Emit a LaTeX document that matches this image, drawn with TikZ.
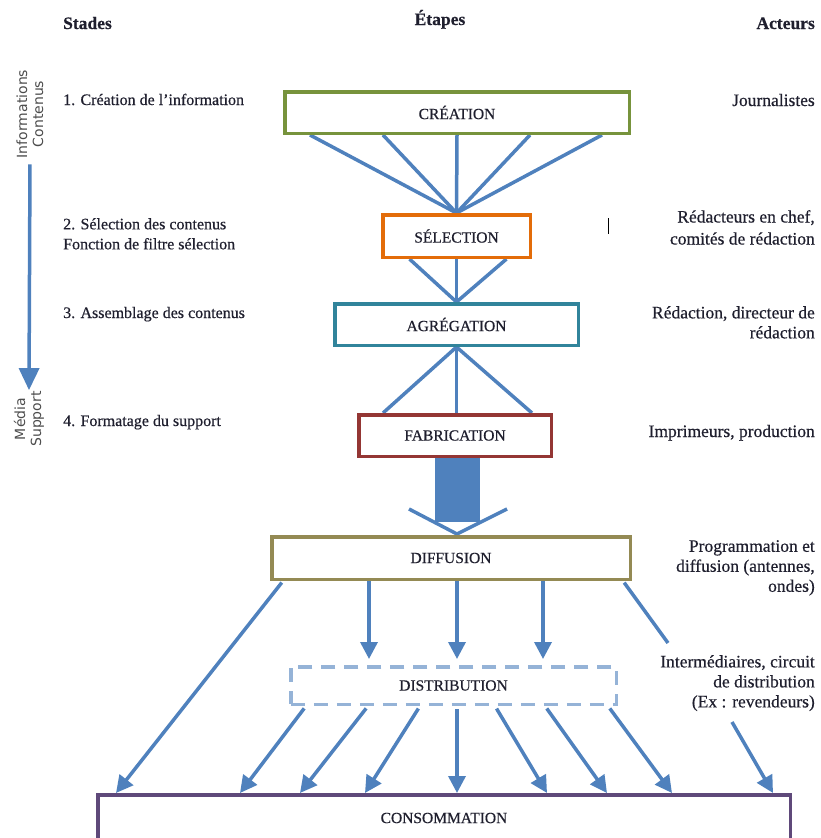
\documentclass[tikz,border=0pt]{standalone}
\usepackage{fontspec}
\setmainfont{Liberation Serif}[FakeBold=0.5]
\newfontfamily\sidesans{DejaVu Sans}
\usetikzlibrary{arrows.meta}
\definecolor{flowblue}{HTML}{4F81BD}
\definecolor{creagreen}{HTML}{77933C}
\definecolor{selorange}{HTML}{E36C09}
\definecolor{agrteal}{HTML}{31849B}
\definecolor{fabred}{HTML}{943634}
\definecolor{difolive}{HTML}{948A54}
\definecolor{distblue}{HTML}{95B3D7}
\definecolor{conspurple}{HTML}{5F497A}
\definecolor{labelink}{HTML}{1F1F2E}
\pgfdeclarelayer{background}
\pgfsetlayers{background,main}
\begin{document}
\begin{tikzpicture}[x=1pt,y=-1pt,
  stagebox/.style={draw, line width=3.5pt, fill=white, inner sep=0pt, font=\fontsize{15.5}{18}\selectfont, text=labelink},
  flow/.style={draw=flowblue, line width=3.5pt},
  flowarrow/.style={flow, -{Triangle[length=17pt,width=17pt]}},
  leftlabel/.style={font=\fontsize{16}{20}\selectfont, text=labelink, inner sep=0pt, align=left},
  rightlabel/.style={font=\fontsize{17.5}{20}\selectfont, text=labelink, inner sep=0pt, align=right},
  header/.style={font=\fontsize{17.5}{20}\selectfont\bfseries, text=labelink, inner sep=0pt},
  sidetext/.style={font=\sidesans\fontsize{14}{16}\selectfont, text=black!70, inner sep=0pt, align=center, rotate=90}
]
\useasboundingbox (0,0) rectangle (821,838);
\clip (0,0) rectangle (821,838);

% headers
\node[header, anchor=base west] (hs) at (63,29) {Stades};
\node[header, anchor=base] (he) at (440,25) {Étapes};
\node[header, anchor=base east] (ha) at (815,29) {Acteurs};

% side rotated texts
\node[sidetext] (info) at (30,114) {Informations\\Contenus};
\node[sidetext] (media) at (29,419) {Média\\Support};

% stage boxes
\node[stagebox, draw=creagreen, minimum width=344.5pt, minimum height=41.5pt] (cre) at (457,112.5) {CRÉATION};
\node[stagebox, draw=selorange, minimum width=147.5pt, minimum height=42.5pt] (sel) at (456.5,236) {SÉLECTION};
\node[stagebox, draw=agrteal, minimum width=243.5pt, minimum height=41.5pt] (agr) at (456.5,324.5) {AGRÉGATION};
\node[stagebox, draw=fabred, minimum width=192.5pt, minimum height=41.5pt] (fab) at (455,435.5) {FABRICATION};
\node[stagebox, draw=difolive, minimum width=358.5pt, minimum height=42.5pt] (dif) at (451,558) {DIFFUSION};
\node[stagebox, draw=distblue, dash pattern=on 14pt off 9pt, minimum width=325.5pt, minimum height=37.5pt] (dist) at (453.5,685.5) {DISTRIBUTION};
\node[stagebox, draw=conspurple, minimum width=692.5pt, minimum height=46.5pt] (cons) at (444,818) {CONSOMMATION};

% left labels
\node[leftlabel, anchor=base west] (l1) at (63,105) {1. Création de l'information};
\node[leftlabel, anchor=north west] (l2) at (63,218) {2. Sélection des contenus\\Fonction de filtre sélection};
\node[leftlabel, anchor=base west] (l3) at (63,318) {3. Assemblage des contenus};
\node[leftlabel, anchor=base west] (l4) at (63,426) {4. Formatage du support};

% right labels
\node[rightlabel, anchor=base east] (r1) at (815,106) {Journalistes};
\node[rightlabel, anchor=north east] (r2) at (815,210) {Rédacteurs en chef,\\[2pt]comités de rédaction};
\node[rightlabel, anchor=north east] (r3) at (815,306) {Rédaction, directeur de\\rédaction};
\node[rightlabel, anchor=base east] (r4) at (815,437) {Imprimeurs, production};
\node[rightlabel, anchor=north east] (r5) at (815,540) {Programmation et\\diffusion (antennes,\\ondes)};
\node[rightlabel, anchor=north east] (r6) at (815,655) {Intermédiaires, circuit\\de distribution\\(Ex : revendeurs)};

% cursor mark
\draw[line width=1pt, black] (608,218) -- (608,234);

\coordinate (difend) at (668,643);
\coordinate (interend) at (732,722);

\begin{pgfonlayer}{background}
% left vertical arrow
\draw[flow, -{Triangle[length=22pt,width=20pt]}, shorten <=6pt, shorten >=1pt] (info.west) -- (media.east);

% creation -> selection
\foreach \dx in {-147,-74,0,73,145}
  \draw[flow] ([xshift=\dx pt]cre.south) -- (sel.north);
% selection -> agregation
\foreach \dx in {-47,0,50}
  \draw[flow] ([xshift=\dx pt]sel.south) -- (agr.north);
% agregation -> fabrication
\foreach \dx in {-72,1.5,77}
  \draw[flow] (agr.south) -- ([xshift=\dx pt]fab.north);

% fabrication -> diffusion block arrow
\fill[flowblue] ([xshift=-20pt]fab.south) rectangle ([xshift=25pt,yshift=-64pt]fab.south);
\draw[flow] ([xshift=-42pt,yshift=26pt]dif.north) -- ([xshift=6pt,yshift=1pt]dif.north) -- ([xshift=56pt,yshift=26pt]dif.north);

% diffusion outputs
\draw[flowarrow, shorten <=2pt] ([xshift=-168pt]dif.south) -- ([xshift=-328pt]cons.north);
\foreach \a/\b in {-82/-84.5, 6/3.5, 92/89.5}
  \draw[flowarrow, shorten >=6pt] ([xshift=\a pt]dif.south) -- ([xshift=\b pt]dist.north);
\draw[flow, shorten <=2pt] ([xshift=172pt]dif.south) -- (difend);

% distribution outputs
\foreach \a/\b in {-147.5/-204, -85.5/-144, -33.5/-79, 3.5/13, 41.5/103, 91.5/163, 154.5/228}
  \draw[flowarrow, shorten <=3pt] ([xshift=\a pt]dist.south) -- ([xshift=\b pt]cons.north);

% intermediaries -> consommation
\draw[flowarrow] (interend) -- ([xshift=329pt]cons.north);
\end{pgfonlayer}
\end{tikzpicture}
\end{document}
